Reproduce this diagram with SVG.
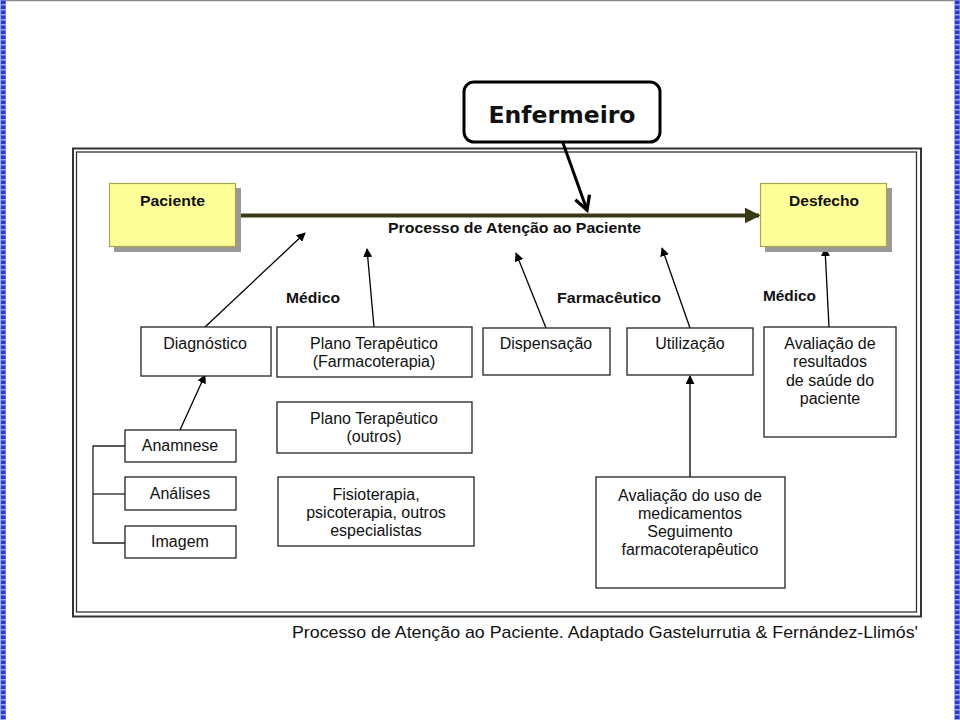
<svg xmlns="http://www.w3.org/2000/svg" width="960" height="720" viewBox="0 0 960 720">
<defs>
<pattern id="blu" x="0" y="0" width="6" height="5" patternUnits="userSpaceOnUse">
<rect width="6" height="5" fill="#9aa8ee"/>
<rect x="1" y="0.5" width="4.5" height="3.5" fill="#2a3bc8"/>
</pattern>
<marker id="ah" viewBox="0 0 10 10" refX="9" refY="5" markerWidth="9" markerHeight="9" markerUnits="userSpaceOnUse" orient="auto">
<path d="M0,0 L10,5 L0,10 Z" fill="#000"/>
</marker>
<marker id="ahm" viewBox="0 0 10 10" refX="9" refY="5" markerWidth="4" markerHeight="4" orient="auto">
<path d="M0,0 L10,5 L0,10 Z" fill="#3a3a12"/>
</marker>
<marker id="ahv" viewBox="0 0 12 12" refX="10" refY="6" markerWidth="18" markerHeight="18" markerUnits="userSpaceOnUse" orient="auto">
<path d="M1,1 L10,6 L1,11" fill="none" stroke="#000" stroke-width="2.2"/>
</marker>
</defs>
<style>
.box{fill:#fff;stroke:#222;stroke-width:1.3}
.t{font-family:"Liberation Sans",Arial,sans-serif;font-size:16px;fill:#111;text-anchor:middle}
.b{font-family:"Liberation Sans",Arial,sans-serif;font-size:14.5px;font-weight:bold;fill:#111}
.yel{fill:#ffff99;stroke:#a6a64a;stroke-width:1.2}
.sh{fill:#999}
.ar{stroke:#000;stroke-width:1.3;fill:none;marker-end:url(#ah)}
</style>
<rect width="960" height="720" fill="#fff"/>
<rect x="0" y="0" width="6" height="720" fill="url(#blu)"/>
<rect x="954" y="0" width="6" height="720" fill="url(#blu)"/>
<line x1="6" y1="0.5" x2="954" y2="0.5" stroke="#888" stroke-width="1.5"/>

<g id="frame">
<rect x="73" y="148.5" width="848" height="468" fill="none" stroke="#333" stroke-width="2"/>
<rect x="76.5" y="152" width="840" height="460" fill="none" stroke="#333" stroke-width="1.3"/>
</g>

<g id="connectors">
<line x1="237" y1="215.5" x2="759" y2="215.5" stroke="#3a3a12" stroke-width="4" marker-end="url(#ahm)"/>
<line x1="563" y1="143" x2="587" y2="210" stroke="#000" stroke-width="3" marker-end="url(#ahv)"/>
<line class="ar" x1="205" y1="327" x2="305" y2="233"/>
<line class="ar" x1="374" y1="327" x2="367" y2="249"/>
<line class="ar" x1="546" y1="328" x2="516" y2="253"/>
<line class="ar" x1="690" y1="328" x2="662" y2="248"/>
<line class="ar" x1="829" y1="327" x2="825" y2="248"/>
<line class="ar" x1="180" y1="430" x2="205" y2="375"/>
<line class="ar" x1="690" y1="477" x2="690" y2="376"/>
<polyline points="125,446 93,446 93,543 125,543" fill="none" stroke="#222" stroke-width="1.3"/>
<line x1="93" y1="494" x2="125" y2="494" stroke="#222" stroke-width="1.3"/>
</g>

<g id="enfermeiro">
<rect x="464" y="82" width="196" height="60" rx="10" fill="#fff" stroke="#000" stroke-width="3"/>
<text x="562" y="123" text-anchor="middle" font-family="DejaVu Sans, Verdana, sans-serif" font-size="23" font-weight="bold" fill="#111" textLength="147" lengthAdjust="spacingAndGlyphs">Enfermeiro</text>
</g>

<g id="paciente">
<rect class="sh" x="114" y="188" width="127" height="64"/>
<rect class="yel" x="109.5" y="183.5" width="126" height="63"/>
<text class="b" x="140" y="206" textLength="65" lengthAdjust="spacingAndGlyphs">Paciente</text>
</g>
<g id="desfecho">
<rect class="sh" x="765" y="188" width="127" height="64"/>
<rect class="yel" x="760.5" y="183.5" width="126" height="63"/>
<text class="b" x="789" y="206" textLength="70" lengthAdjust="spacingAndGlyphs">Desfecho</text>
</g>

<text class="b" x="388" y="233" textLength="253" lengthAdjust="spacingAndGlyphs">Processo de Atenção ao Paciente</text>
<text class="b" x="286" y="303" textLength="54" lengthAdjust="spacingAndGlyphs">Médico</text>
<text class="b" x="557" y="303" textLength="104" lengthAdjust="spacingAndGlyphs">Farmacêutico</text>
<text class="b" x="763" y="301" textLength="53" lengthAdjust="spacingAndGlyphs">Médico</text>

<g id="diagnostico"><rect class="box" x="141" y="327" width="130" height="49"/><text class="t" x="205" y="349">Diagnóstico</text></g>
<g id="plano-farmaco"><rect class="box" x="277" y="327" width="195" height="50"/><text class="t" x="374" y="349">Plano Terapêutico</text><text class="t" x="374" y="367">(Farmacoterapia)</text></g>
<g id="plano-outros"><rect class="box" x="277" y="402" width="195" height="51"/><text class="t" x="374" y="424">Plano Terapêutico</text><text class="t" x="374" y="442">(outros)</text></g>
<g id="fisioterapia"><rect class="box" x="278" y="477" width="196" height="69"/><text class="t" x="376" y="500">Fisioterapia,</text><text class="t" x="376" y="518">psicoterapia, outros</text><text class="t" x="376" y="536">especialistas</text></g>
<g id="dispensacao"><rect class="box" x="483" y="328" width="127" height="47"/><text class="t" x="546" y="349">Dispensação</text></g>
<g id="utilizacao"><rect class="box" x="627" y="328" width="126" height="47"/><text class="t" x="690" y="349">Utilização</text></g>
<g id="avaliacao-resultados"><rect class="box" x="764" y="327" width="132" height="110"/><text class="t" x="830" y="349">Avaliação de</text><text class="t" x="830" y="367">resultados</text><text class="t" x="830" y="386">de saúde do</text><text class="t" x="830" y="404">paciente</text></g>
<g id="anamnese"><rect class="box" x="125" y="430" width="111" height="32"/><text class="t" x="180" y="451">Anamnese</text></g>
<g id="analises"><rect class="box" x="125" y="477" width="111" height="33"/><text class="t" x="180" y="499">Análises</text></g>
<g id="imagem"><rect class="box" x="125" y="526" width="111" height="32"/><text class="t" x="180" y="547">Imagem</text></g>
<g id="avaliacao-uso"><rect class="box" x="596" y="477" width="189" height="111"/><text class="t" x="690" y="501">Avaliação do uso de</text><text class="t" x="690" y="519">medicamentos</text><text class="t" x="690" y="537">Seguimento</text><text class="t" x="690" y="555">farmacoterapêutico</text></g>

<text x="292" y="638" font-family="Liberation Sans, Arial, sans-serif" font-size="17" fill="#111" textLength="626" lengthAdjust="spacingAndGlyphs">Processo de Atenção ao Paciente. Adaptado Gastelurrutia &amp; Fernández-Llimós'</text>
</svg>
